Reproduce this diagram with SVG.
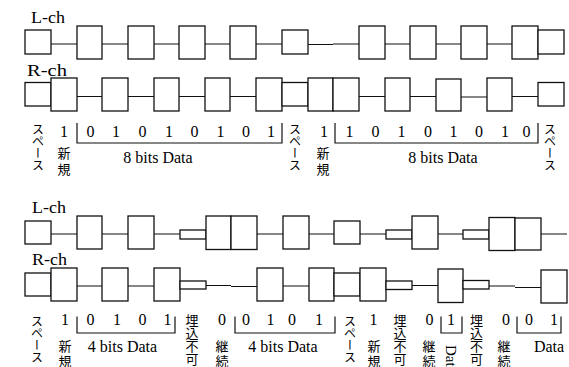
<svg xmlns="http://www.w3.org/2000/svg" width="569" height="367" viewBox="0 0 569 367">
<style>
.b{fill:#fff;stroke:#111;stroke-width:1.3}
.c{fill:none;stroke:#111;stroke-width:1.2}
.t{font-family:"Liberation Serif","Times New Roman",serif;font-size:16px;fill:#000}
.ch{font-family:"Liberation Serif","Times New Roman",serif;font-size:17px;fill:#000}
.m{text-anchor:middle}
.v{font-family:"Noto Sans CJK JP","Noto Sans",sans-serif;font-size:12px;fill:#000;writing-mode:vertical-rl}
.v13{font-size:13px}
.vd{font-family:"Liberation Serif","Times New Roman",serif;font-size:15px;fill:#000;writing-mode:vertical-rl}
</style>
<rect width="569" height="367" fill="#fff"/>

<g id="connectors">
<path class="c" d="M51,44H77M102,44H128M154,44H179M205,44H230M256,44H282M308,44.5H333M333,44H359M385,44H410M436,44H461M487,44H512"/>
<path class="c" d="M77,96.5H102M128,96.5H154M179,96.5H205M230,96.5H256M359,96.5H385M410,96.5H436M461,97H487M512,96.5H538"/>
<path class="c" d="M51,234H77M102,234H128M154,234H180M257,234H283M309,234H334M360,234H386M438,234H463M541,234H567"/>
<path class="c" d="M77,286H102M128,286H154M206,285.5H231M231,286.5H257M283,286H309M412,285.5H438M489,286H515M515,287.5H541"/>
</g>

<g id="labels-ch">
<text class="ch" x="31" y="23" textLength="34" lengthAdjust="spacingAndGlyphs">L-ch</text>
<text class="ch" x="27" y="75.5" textLength="40" lengthAdjust="spacingAndGlyphs">R-ch</text>
<text class="ch" x="32" y="213" textLength="34" lengthAdjust="spacingAndGlyphs">L-ch</text>
<text class="ch" x="32" y="265" textLength="35" lengthAdjust="spacingAndGlyphs">R-ch</text>
</g>

<g id="top-L">
<rect id="tL0" class="b" x="25" y="30" width="26" height="24"/>
<rect id="tL2" class="b" x="77" y="26" width="25" height="33"/>
<rect id="tL4" class="b" x="128" y="26" width="26" height="33"/>
<rect id="tL6" class="b" x="179" y="26" width="26" height="33"/>
<rect id="tL8" class="b" x="230" y="26" width="26" height="33"/>
<rect id="tL10" class="b" x="282" y="30" width="26" height="24"/>
<rect id="tL13" class="b" x="359" y="26" width="26" height="33"/>
<rect id="tL15" class="b" x="410" y="26" width="26" height="33"/>
<rect id="tL17" class="b" x="461" y="26" width="26" height="33"/>
<rect id="tL19" class="b" x="512" y="26" width="26" height="33"/>
<rect id="tL20" class="b" x="538" y="30" width="26" height="24"/>
</g>

<g id="top-R">
<rect id="tR0" class="b" x="25" y="82.5" width="26" height="23.5"/>
<rect id="tR1" class="b" x="51" y="78" width="26" height="33"/>
<rect id="tR3" class="b" x="102" y="78" width="26" height="33"/>
<rect id="tR5" class="b" x="154" y="78" width="25" height="33"/>
<rect id="tR7" class="b" x="205" y="78" width="25" height="33"/>
<rect id="tR9" class="b" x="256" y="78" width="26" height="33"/>
<rect id="tR10" class="b" x="282" y="82.5" width="26" height="23.5"/>
<rect id="tR11" class="b" x="308" y="78" width="25" height="33"/>
<rect id="tR12" class="b" x="333" y="78" width="26" height="33"/>
<rect id="tR14" class="b" x="385" y="78" width="25" height="33"/>
<rect id="tR16" class="b" x="436" y="79" width="25" height="32"/>
<rect id="tR18" class="b" x="487" y="78" width="25" height="33"/>
<rect id="tR20" class="b" x="538" y="82.5" width="26" height="23.5"/>
</g>

<g id="bot-L">
<rect id="bL0" class="b" x="25" y="221" width="26" height="23"/>
<rect id="bL2" class="b" x="77" y="216" width="25" height="33"/>
<rect id="bL4" class="b" x="128" y="216" width="26" height="33"/>
<rect id="bL6" class="b" x="180" y="230" width="26" height="9"/>
<rect id="bL7" class="b" x="206" y="216" width="25" height="33.5"/>
<rect id="bL8" class="b" x="231" y="216" width="26" height="33.5"/>
<rect id="bL10" class="b" x="283" y="216" width="26" height="33"/>
<rect id="bL12" class="b" x="334" y="221" width="26" height="23"/>
<rect id="bL14" class="b" x="386" y="230" width="26" height="9"/>
<rect id="bL15" class="b" x="412" y="216" width="26" height="33"/>
<rect id="bL17" class="b" x="463" y="230" width="26" height="9"/>
<rect id="bL18" class="b" x="489" y="217.5" width="26" height="33"/>
<rect id="bL19" class="b" x="515" y="218" width="26" height="32"/>
</g>

<g id="bot-R">
<rect id="bR0" class="b" x="25" y="273" width="26" height="23"/>
<rect id="bR1" class="b" x="51" y="268" width="26" height="33"/>
<rect id="bR3" class="b" x="102" y="268" width="26" height="33"/>
<rect id="bR5" class="b" x="154" y="268" width="26" height="33"/>
<rect id="bR6" class="b" x="180" y="281" width="26" height="8"/>
<rect id="bR9" class="b" x="257" y="268" width="26" height="33"/>
<rect id="bR11" class="b" x="309" y="268" width="25" height="33"/>
<rect id="bR12" class="b" x="334" y="273" width="26" height="23"/>
<rect id="bR13" class="b" x="360" y="268" width="26" height="33"/>
<rect id="bR14" class="b" x="386" y="281" width="26" height="8.5"/>
<rect id="bR16" class="b" x="438" y="269" width="25" height="33.5"/>
<rect id="bR17" class="b" x="463" y="280.5" width="26" height="8.5"/>
<rect id="bR20" class="b" x="541" y="270" width="26" height="33"/>
</g>

<g id="top-labels">
<text class="v" x="38" y="123">スペース</text>
<text class="t m" x="64" y="137">1</text>
<text class="v v13" x="64" y="147" letter-spacing="3">新規</text>
<path class="c" d="M77,123V143H282V123"/>
<text class="t m" y="137"><tspan x="90.5">0</tspan><tspan x="116">1</tspan><tspan x="142.5">0</tspan><tspan x="169">1</tspan><tspan x="194.5">0</tspan><tspan x="220.5">1</tspan><tspan x="246">0</tspan><tspan x="271">1</tspan></text>
<text class="t m" x="158" y="163">8 bits Data</text>
<text class="v" x="295" y="123">スペース</text>
<text class="t m" x="324" y="137">1</text>
<text class="v v13" x="323" y="147" letter-spacing="3">新規</text>
<path class="c" d="M335,123V143H538V123"/>
<text class="t m" y="137"><tspan x="349.5">1</tspan><tspan x="375.5">0</tspan><tspan x="401.5">1</tspan><tspan x="428">0</tspan><tspan x="453.5">1</tspan><tspan x="479">0</tspan><tspan x="505">1</tspan><tspan x="526.5">0</tspan></text>
<text class="t m" x="443" y="163">8 bits Data</text>
<text class="v" x="550" y="123">スペース</text>
</g>

<g id="bottom-labels">
<text class="v" x="37" y="315">スペース</text>
<text class="t m" x="65" y="325">1</text>
<text class="v v13" x="65" y="340" letter-spacing="2">新規</text>
<path class="c" d="M77,316.5V333H175V316.5"/>
<text class="t m" y="325"><tspan x="90.5">0</tspan><tspan x="117">1</tspan><tspan x="142.5">0</tspan><tspan x="167.5">1</tspan></text>
<text class="t m" x="122.5" y="352">4 bits Data</text>
<text class="v v13" x="192" y="314">埋込不可</text>
<text class="t m" x="222" y="325">0</text>
<text class="v v13" x="222" y="340" letter-spacing="2">継続</text>
<path class="c" d="M235,316.5V333H335V316.5"/>
<text class="t m" y="325"><tspan x="246">0</tspan><tspan x="270.5">1</tspan><tspan x="292">0</tspan><tspan x="319">1</tspan></text>
<text class="t m" x="283" y="352">4 bits Data</text>
<text class="v" x="350" y="315">スペース</text>
<text class="t m" x="373.5" y="325">1</text>
<text class="v v13" x="374" y="340" letter-spacing="2">新規</text>
<text class="v v13" x="400" y="314">埋込不可</text>
<text class="t m" x="429.5" y="325">0</text>
<text class="v v13" x="429" y="340" letter-spacing="2">継続</text>
<path class="c" d="M441,316.5V333H462V316.5"/>
<text class="t m" x="451" y="325">1</text>
<text class="vd" x="451" y="345">Data</text>
<text class="v v13" x="476.5" y="314">埋込不可</text>
<text class="t m" x="506" y="325">0</text>
<text class="v v13" x="504" y="340" letter-spacing="2">継続</text>
<path class="c" d="M517,316.5V333H561V316.5"/>
<text class="t m" y="325"><tspan x="529">0</tspan><tspan x="554">1</tspan></text>
<text class="t m" x="549" y="352">Data</text>
</g>
</svg>
